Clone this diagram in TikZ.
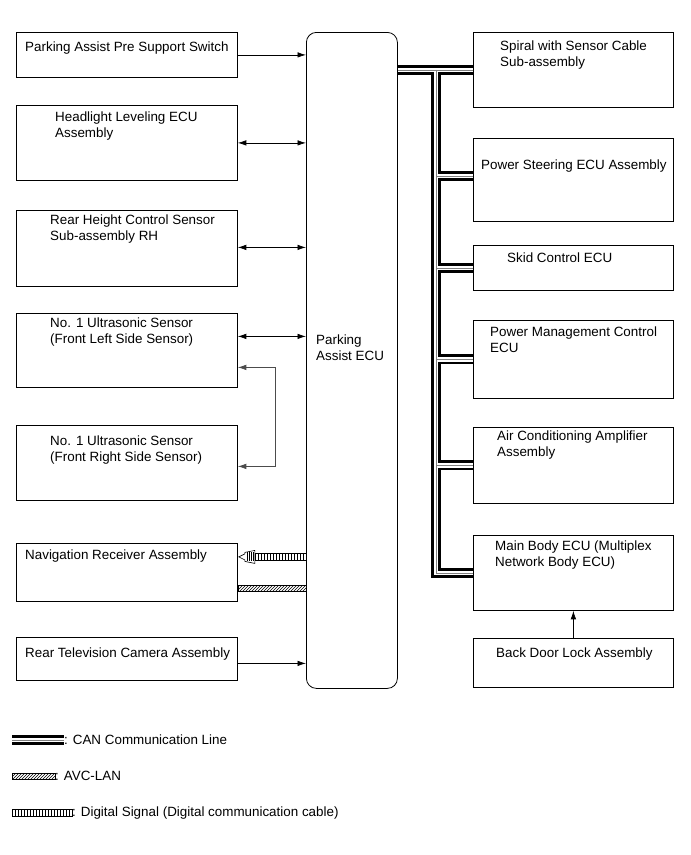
\documentclass[tikz,border=0pt]{standalone}
\usepackage{fontspec}
\setmainfont{Liberation Sans}
\usetikzlibrary{calc,positioning,arrows.meta,patterns}

\begin{document}
\begin{tikzpicture}[x=1pt,y=-1pt,
  box/.style={draw,line width=0.8pt,inner sep=0pt,anchor=north west},
  lbox/.style={box,minimum width=221pt},
  rbox/.style={box,minimum width=200pt},
  txt/.style={anchor=north west,inner sep=0pt,align=left,font=\fontsize{13.4}{15.5}\selectfont},
  sig/.style={line width=0.7pt,-{Latex[length=8.5pt,width=5.5pt]}},
  sigs/.style={line width=0.7pt,{Latex[length=8.5pt,width=5.5pt]}-{Latex[length=8.5pt,width=5.5pt]}},
  can/.style={draw=black,line width=2.8pt,double=white,double distance=4.4pt,
    postaction={draw=gray,line width=0.8pt,double=none}},
  avc/.style={draw,line width=0.6pt,pattern=north east lines},
  dig/.style={draw,line width=0.6pt,pattern=vertical lines}]
  \useasboundingbox (0,0) rectangle (691,855);

  % left column
  \node[lbox,minimum height=45pt] (sw) at (16,32) {};
  \node[lbox,minimum height=75pt] (hl) at (16,105) {};
  \node[lbox,minimum height=76pt] (rh) at (16,210) {};
  \node[lbox,minimum height=74pt] (fl) at (16,313) {};
  \node[lbox,minimum height=75pt] (fr) at (16,425) {};
  \node[lbox,minimum height=58pt] (nav) at (16,543) {};
  \node[lbox,minimum height=43pt] (cam) at (16,637) {};

  % the ECU
  \node[box,rounded corners=10pt,minimum width=91pt,minimum height=656pt] (ecu) at (306,32) {};

  % right column
  \node[rbox,minimum height=75pt] (sp) at (473,32) {};
  \node[rbox,minimum height=83pt] (ps) at (473,138) {};
  \node[rbox,minimum height=45pt] (sk) at (473,245) {};
  \node[rbox,minimum height=78pt] (pm) at (473,320) {};
  \node[rbox,minimum height=76pt] (ac) at (473,427) {};
  \node[rbox,minimum height=75pt] (mb) at (473,535) {};
  \node[rbox,minimum height=49pt] (bd) at (473,638) {};

  % labels
  \node[txt] (swt) at ($(sw.north west)+(9,10)$) {Parking Assist Pre Support Switch};
  \node[txt] (hlt) at ($(hl.north west)+(39,7)$) {Headlight Leveling ECU\\Assembly};
  \node[txt] (rht) at ($(rh.north west)+(34,5)$) {Rear Height Control Sensor\\Sub-assembly RH};
  \node[txt] (flt) at ($(fl.north west)+(34,5)$) {No. 1 Ultrasonic Sensor\\(Front Left Side Sensor)};
  \node[txt] (frt) at ($(fr.north west)+(34,11)$) {No. 1 Ultrasonic Sensor\\(Front Right Side Sensor)};
  \node[txt] (navt) at ($(nav.north west)+(9,7)$) {Navigation Receiver Assembly};
  \node[txt] (camt) at ($(cam.north west)+(9,11)$) {Rear Television Camera Assembly};
  \node[txt] (ecut) at ($(ecu.north west)+(10,303)$) {Parking\\Assist ECU};
  \node[txt] (spt) at ($(sp.north west)+(27,9)$) {Spiral with Sensor Cable\\Sub-assembly};
  \node[txt] (pst) at ($(ps.north west)+(8,22)$) {Power Steering ECU Assembly};
  \node[txt] (skt) at ($(sk.north west)+(34,8)$) {Skid Control ECU};
  \node[txt] (pmt) at ($(pm.north west)+(17,7)$) {Power Management Control\\ECU};
  \node[txt] (act) at ($(ac.north west)+(24,4)$) {Air Conditioning Amplifier\\Assembly};
  \node[txt] (mbt) at ($(mb.north west)+(22,6)$) {Main Body ECU (Multiplex\\Network Body ECU)};
  \node[txt] (bdt) at ($(bd.north west)+(23,10)$) {Back Door Lock Assembly};

  % signal lines
  \draw[sig] (sw.east) -- (sw.east -| ecu.west);
  \draw[sigs] (hl.east) -- (hl.east -| ecu.west);
  \draw[sigs] ([yshift=1pt]rh.east) -- ([yshift=1pt]rh.east -| ecu.west);
  \draw[sigs] ([yshift=14pt]fl.east) -- ([yshift=14pt]fl.east -| ecu.west);
  \draw[sigs,draw=black!70] ([yshift=-17pt]fl.east) -- ++(38,0) |- ([yshift=-3.5pt]fr.east);
  \draw[sig] ([yshift=-4.5pt]cam.east) -- ([yshift=-4.5pt]cam.east -| ecu.west);
  \draw[sig] (bd.north) -- (mb.south);

  % digital signal and AVC-LAN
  \coordinate (dg) at ([yshift=15.5pt]nav.east);
  \draw[dig] ($(dg)+(16,-3.5)$) rectangle ($(dg -| ecu.west)+(0,3.5)$);
  \draw[line width=0.6pt,fill=white] ($(dg)+(1,0)$) -- ++(6,-3) -- ++(0,-1.5) -- ++(10,-2)
    -- ++(0,13) -- ++(-10,-2) -- ++(0,-1.5) -- cycle;
  \foreach \i in {9,11,13,15}
    \draw[line width=0.5pt] ($(dg)+(\i,-4.5)$) -- ++(0,9);
  \draw[avc] ([yshift=-13pt]nav.east) rectangle ([yshift=-19pt]nav.east -| ecu.west);

  % CAN bus
  \coordinate (bus) at (436,0);
  \draw[can] (sp.west -| ecu.east) -- (sp.west)
    (bus |- sp.west) |- (mb.west)
    (bus |- ps.west) ++(0,-4) -- ([yshift=4pt]ps.west)
    (bus |- sk.west) -- (sk.west)
    (bus |- pm.west) -- (pm.west)
    (bus |- ac.west) -- (ac.west);

  % legend
  \coordinate (l1) at (12,740);
  \coordinate (l2) at (12,776);
  \coordinate (l3) at (12,813);
  \draw[can] (l1) -- ++(52,0) coordinate (l1e);
  \node[txt,anchor=west] (l1t) at (l1e) {: CAN Communication Line};
  \draw[avc] ($(l2)+(0,-3)$) rectangle ($(l2)+(43,3)$) coordinate (l2e);
  \node[txt,anchor=west] (l2t) at ($(l2e)+(0,-3)$) {: AVC-LAN};
  \draw[dig] ($(l3)+(0,-3.5)$) rectangle ($(l3)+(60,3.5)$) coordinate (l3e);
  \node[txt,anchor=west] (l3t) at ($(l3e)+(0,-3.5)$) {: Digital Signal (Digital communication cable)};
\end{tikzpicture}
\end{document}
